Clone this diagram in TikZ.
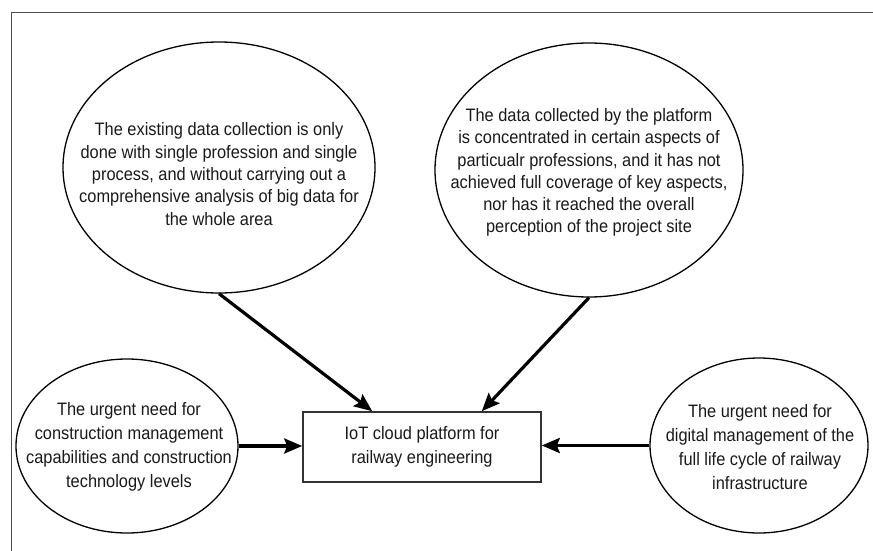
\documentclass[tikz,border=0pt]{standalone}
\usepackage{fontspec}
\setmainfont[FakeStretch=0.91]{Liberation Sans}
\usetikzlibrary{arrows.meta,shapes.geometric}
\begin{document}
\begin{tikzpicture}[x=1pt,y=-1pt,
  frameline/.style={draw=black!70, line width=1.1pt},
  bubble/.style={draw=black, line width=1.3pt, ellipse, inner sep=0pt},
  bubbletext/.style={align=center, inner sep=0pt, text=black!90,
    font=\fontsize{18}{22.3}\selectfont},
  smalltext/.style={bubbletext, font=\fontsize{18}{23.8}\selectfont},
  platform/.style={draw=black!80, line width=1.6pt, minimum width=238pt,
    minimum height=70pt, align=center, inner sep=0pt, text=black!90,
    font=\fontsize{18}{24}\selectfont},
  link/.style={line width=3.2pt, -{Stealth[length=18pt,width=15pt,inset=3pt]}},
]
\useasboundingbox (0,0) rectangle (873,551);

% outer frame (top and left edges)
\draw[frameline] (11.7,551) -- (11.7,12.7) -- (873,12.7);

% upper problem bubbles
\node[bubble, minimum width=312pt, minimum height=251pt] (e1) at (219,167.5) {};
\node[bubbletext] (t1) at (219,174) {The existing data collection is only\\
  done with single profession and single\\
  process, and without carrying out a\\
  comprehensive analysis of big data for\\
  the whole area};

\node[bubble, minimum width=308pt, minimum height=254pt] (e2) at (589,170) {};
\node[bubbletext] (t2) at (589,172.5) {The data collected by the platform\\
  is concentrated in certain aspects of\\
  particualr professions, and it has not\\
  achieved full coverage of key aspects,\\
  nor has it reached the overall\\
  perception of the project site};

% side need bubbles
\node[bubble, minimum width=222pt, minimum height=174pt] (e3) at (127,446) {};
\node[smalltext] (t3) at (129,447) {The urgent need for\\
  construction management\\
  capabilities and construction\\
  technology levels};

\node[bubble, minimum width=218pt, minimum height=175pt] (e4) at (759,445.5) {};
\node[smalltext] (t4) at (760,447) {The urgent need for\\
  digital management of the\\
  full life cycle of railway\\
  infrastructure};

% central platform
\node[platform] (box) at (422,447) {IoT cloud platform for\\railway engineering};

% connectors
\draw[link] (e1.south) -- ([xshift=70pt]box.north west);
\draw[link] (e2.south) -- ([xshift=-60pt]box.north east);
\draw[link] (e3.east) -- (e3.east -| box.west);
\draw[link] (e4.west) -- (e4.west -| box.east);
\end{tikzpicture}
\end{document}
